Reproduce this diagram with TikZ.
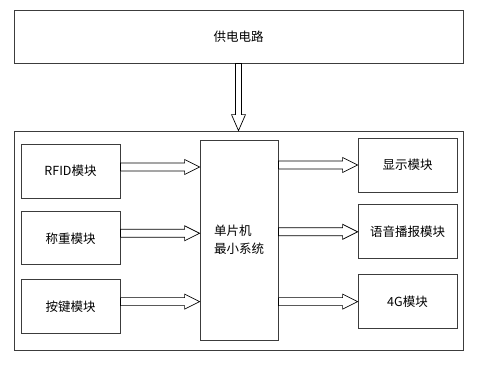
\documentclass[tikz,border=0pt]{standalone}
\usepackage{fontspec}
\usepackage{tikz}
\usetikzlibrary{positioning,calc}
\newfontfamily\cjk{Noto Sans CJK SC}
\definecolor{framegray}{RGB}{60,60,60}
\tikzset{
  block/.style={draw=framegray, line width=0.8pt, minimum width=99pt, minimum height=54pt,
                inner sep=0pt, font=\cjk\fontsize{12.5}{18}\selectfont},
  wide/.style={block, minimum width=449pt, minimum height=53pt},
  board/.style={draw=framegray, line width=0.8pt, minimum width=449pt, minimum height=219pt,
                inner sep=0pt},
  mcubox/.style={block, minimum width=78pt, minimum height=200pt, align=left},
  hollow/.style={draw=black, line width=0.7pt, fill=white, line join=miter}
}
% hollow block arrow, left to right: #1 start point, #2 node at the tip side
\newcommand{\harrow}[2]{%
  \draw[hollow] let \p1=(#1), \p2=(#2) in
    (\x1,\y1+4pt) -- (\x2-15pt,\y1+4pt) -- (\x2-15pt,\y1+7.5pt) -- (\x2,\y1)
    -- (\x2-15pt,\y1-7.5pt) -- (\x2-15pt,\y1-4pt) -- (\x1,\y1-4pt) -- cycle;}

\begin{document}
\begin{tikzpicture}[x=1pt, y=-1pt]
  \useasboundingbox (0,0) rectangle (479,365);
  % power supply
  \node[wide] (power) at (238.5,36.5) {供电电路};
  \node[board] (main) at (238.5,240.5) {};
  % inputs
  \node[block] (rfid) at (70.5,171) {RFID模块};
  \node[block, below=13pt of rfid, minimum height=53pt] (weigh) {称重模块};
  \node[block, below=14pt of weigh] (key) {按键模块};
  % controller
  \node[mcubox] (mcu) at (239,240) {单片机\\最小系统};
  % outputs
  \node[block] (disp) at (407.5,165) {显示模块};
  \node[block, below=12pt of disp] (voice) {语音播报模块};
  \node[block, below=15pt of voice] (gsm) {4G模块};
  % down arrow
  \draw[hollow] let \p1=(power.south), \p2=(main.north) in
    (\x1-3pt,\y1) -- (\x1-3pt,\y2+16pt) -- (\x1-7pt,\y2+16pt) -- (\x1,\y2)
    -- (\x1+7pt,\y2+16pt) -- (\x1+3pt,\y2+16pt) -- (\x1+3pt,\y1) -- cycle;
  \harrow{[yshift=4pt]rfid.east}{mcu.west}
  \harrow{[yshift=5pt]weigh.east}{mcu.west}
  \harrow{[yshift=5pt]key.east}{mcu.west}
  \harrow{mcu.east |- disp.west}{disp.west}
  \harrow{mcu.east |- voice.west}{voice.west}
  \harrow{mcu.east |- gsm.west}{gsm.west}
\end{tikzpicture}
\end{document}
